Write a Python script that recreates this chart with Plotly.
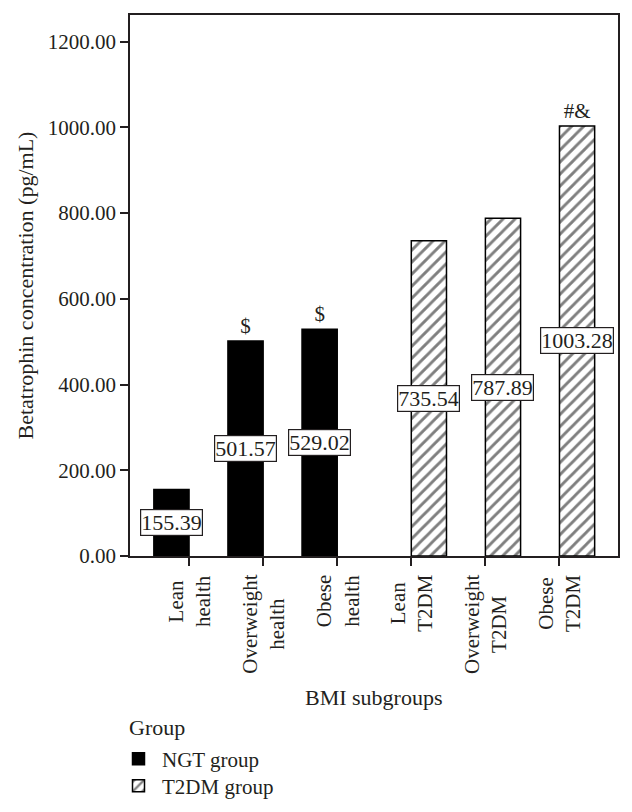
import plotly.graph_objects as go

categories = ["Lean<br>health", "Overweight<br>health", "Obese<br>health",
              "Lean<br>T2DM", "Overweight<br>T2DM", "Obese<br>T2DM"]
ngt_values = [155.39, 501.57, 529.02, None, None, None]
t2dm_values = [None, None, None, 735.54, 787.89, 1003.28]
ngt_marks = ["", "$", "$", "", "", ""]
t2dm_marks = ["", "", "", "", "", "#&"]
y_ticks = [0, 200, 400, 600, 800, 1000, 1200]

FONT = "Liberation Serif"
INK = "#231f20"
BW = 0.475  # bar width in category units
FS = 22
W, H = 624, 804  # page body has an 8px margin

x_idx = list(range(len(categories)))

fig = go.Figure()
fig.add_trace(go.Bar(
    name="NGT group", x=x_idx, y=ngt_values, width=BW, offset=-BW,
    marker=dict(color="black", line=dict(color="black", width=1.5)),
    text=ngt_marks, textposition="outside", cliponaxis=False,
    textfont=dict(family=FONT, size=21, color=INK), legend="legend",
))
fig.add_trace(go.Bar(
    name="T2DM group", x=x_idx, y=t2dm_values, width=BW, offset=0,
    marker=dict(color="white", line=dict(color="black", width=1.5),
                pattern=dict(shape="/", fgcolor="black", bgcolor="white",
                             size=8.5, solidity=0.33)),
    text=t2dm_marks, textposition="outside", cliponaxis=False,
    textfont=dict(family=FONT, size=21, color=INK), legend="legend2",
))

annotations = []
for i, v in enumerate(ngt_values):
    if v is not None:
        annotations.append(dict(x=i - BW / 2, y=v / 2, xref="x", yref="y",
                                text=f"{v:.2f}", showarrow=False,
                                font=dict(family=FONT, size=FS, color=INK),
                                bgcolor="white", bordercolor=INK, borderwidth=1.2,
                                borderpad=0))
for i, v in enumerate(t2dm_values):
    if v is not None:
        annotations.append(dict(x=i + BW / 2, y=v / 2, xref="x", yref="y",
                                text=f"{v:.2f}", showarrow=False,
                                font=dict(family=FONT, size=FS, color=INK),
                                bgcolor="white", bordercolor=INK, borderwidth=1.2,
                                borderpad=0))
for i, c in enumerate(categories):
    annotations.append(dict(x=i, y=0, xref="x", yref="paper", yshift=-17,
                            text=c, textangle=-90, showarrow=False,
                            xanchor="center", yanchor="top", align="center",
                            font=dict(family=FONT, size=21, color=INK)))
# axis titles
annotations.append(dict(x=0.5, y=0, xref="paper", yref="paper", yshift=-141,
                        text="BMI subgroups", showarrow=False,
                        xanchor="center", yanchor="middle",
                        font=dict(family=FONT, size=FS, color=INK)))
annotations.append(dict(x=0, y=0.5, xref="paper", yref="paper", xshift=-105,
                        text="Betatrophin concentration (pg/mL)", textangle=-90,
                        showarrow=False, xanchor="center", yanchor="middle",
                        font=dict(family=FONT, size=FS, color=INK)))
# legend title
annotations.append(dict(x=0, y=0, xref="paper", yref="paper", xshift=-3, yshift=-171,
                        text="Group", showarrow=False, xanchor="left", yanchor="middle",
                        font=dict(family=FONT, size=FS, color=INK)))

legend_common = dict(xref="container", yref="container", xanchor="left", yanchor="middle",
                     font=dict(family=FONT, size=21, color=INK), itemwidth=37,
                     bgcolor="rgba(0,0,0,0)", borderwidth=0)

fig.update_layout(
    width=W, height=H,
    margin=dict(l=122, r=14, t=7, b=256, autoexpand=False),
    paper_bgcolor="white", plot_bgcolor="white",
    barmode="overlay",
    font=dict(family=FONT, size=FS, color=INK),
    showlegend=True,
    legend=dict(x=107 / W, y=1 - 751 / H, **legend_common),
    legend2=dict(x=107 / W, y=1 - 778 / H, **legend_common),
    annotations=annotations,
)
fig.update_xaxes(
    range=[-0.797, 5.79], tickvals=x_idx, showticklabels=False, automargin=False,
    ticks="outside", ticklen=8, tickwidth=1.5, tickcolor=INK,
    showline=True, linecolor=INK, linewidth=1.5, mirror=True, showgrid=False,
    zeroline=False,
)
fig.update_yaxes(
    range=[0, 1262], tickvals=y_ticks, tickformat=".2f", automargin=False,
    ticks="outside", ticklen=8, tickwidth=1.5, tickcolor=INK,
    showline=True, linecolor=INK, linewidth=1.5, mirror=True, showgrid=False,
    zeroline=False,
    tickfont=dict(family=FONT, size=21, color=INK),
)

fig.write_html("out.html")
